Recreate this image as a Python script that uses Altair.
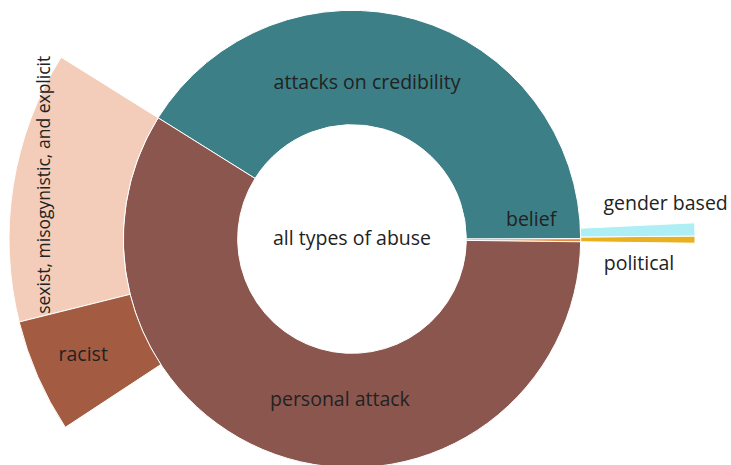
import altair as alt
import pandas as pd

# ---- data (angular sizes in degrees of the full circle) ----
inner_names = ["belief", "attacks on credibility", "personal attack"]
inner_values = [0.8, 147.9, 211.3]
inner_colors = ["#e98a3c", "#3c7f87", "#8b564e"]

outer_names = ["political", "gender based", "sexist, misogynistic, and explicit", "racist"]
outer_parents = ["belief", "belief", "personal attack", "personal attack"]
outer_values = [1.2, 2.2, 46.0, 19.3]
outer_colors = ["#e9b11d", "#aeeef5", "#f3cdb9", "#a35c42"]

center_label = "all types of abuse"

# ---- layout of the sunburst (counter-clockwise stacking from 3 o'clock) ----
START = 450.7
rows = []
end = START
parent_span = {}
for n, v, c in zip(inner_names, inner_values, inner_colors):
    t1 = end
    t0 = end - v
    parent_span[n] = [t0, t1]
    rows.append(dict(name=n, t0=t0, t1=t1, r0=1, r1=2, color=c))
    end = t0
cursor = {k: s[1] for k, s in parent_span.items()}
for n, p, v, c in zip(outer_names, outer_parents, outer_values, outer_colors):
    t1 = cursor[p]
    t0 = t1 - v
    cursor[p] = t0
    rows.append(dict(name=n, t0=t0, t1=t1, r0=2, r1=3, color=c))
arcs = pd.DataFrame(rows)

# label annotations (angle in degrees, radius in ring units)
label_text = [center_label, "attacks on credibility", "personal attack", "belief",
              "racist", "gender based", "political"]
label_theta = [0, 5.5, 184.3, 84.0, 246.7, 83.6, 95.0]
label_radius = [0, 1.37, 1.41, 1.575, 2.56, 2.76, 2.52]
labels = pd.DataFrame(dict(text=label_text, t=label_theta, r=label_radius))

rot_df = pd.DataFrame(dict(text=["sexist, misogynistic, and explicit"], t=[280.0], r=[2.73]))

CX, CY = 352, 239
theta_scale = alt.Scale(domain=[0, 360], range=[0, 6.283185307179586])
radius_scale = alt.Scale(type="linear", domain=[0, 3], range=[0, 343], zero=True)

arc = alt.Chart(arcs).mark_arc(stroke="white", strokeWidth=1).encode(
    theta=alt.Theta("t0:Q", scale=theta_scale),
    theta2="t1:Q",
    radius=alt.Radius("r0:Q", scale=radius_scale),
    radius2="r1:Q",
    color=alt.Color("color:N", scale=None, legend=None),
    x=alt.value(CX),
    y=alt.value(CY),
)

txt = alt.Chart(labels).mark_text(
    font="Open Sans", fontSize=19.5, color="#222222", align="center", baseline="middle"
).encode(
    theta=alt.Theta("t:Q", scale=theta_scale),
    radius=alt.Radius("r:Q", scale=radius_scale),
    text="text:N",
    x=alt.value(CX),
    y=alt.value(CY),
)

rot = alt.Chart(rot_df).mark_text(
    font="Open Sans", fontSize=17.5, color="#222222", align="center", baseline="middle", angle=270
).encode(
    theta=alt.Theta("t:Q", scale=theta_scale),
    radius=alt.Radius("r:Q", scale=radius_scale),
    text="text:N",
    x=alt.value(CX),
    y=alt.value(CY),
)

chart = alt.layer(arc, txt, rot).properties(
    width=731, height=465, padding=0, autosize=alt.AutoSizeParams(type="none")
).configure_view(stroke=None)

chart.save("out.html", embed_options={"renderer": "svg", "actions": False})
